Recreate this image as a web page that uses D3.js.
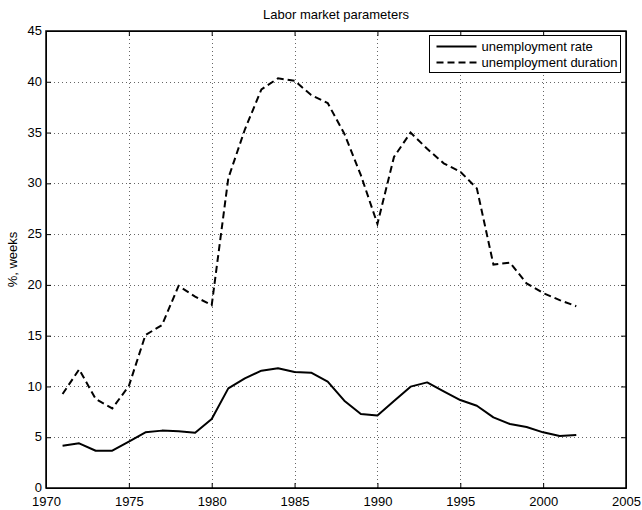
<!DOCTYPE html>
<html>
<head>
<meta charset="utf-8">
<script src="https://cdn.jsdelivr.net/npm/d3@7"></script>
<style>
  body { margin: 0; background: #fff; }
  svg { display: block; font-family: "Liberation Sans", Arial, sans-serif; }
  .tick text { font-size: 13px; fill: #000; }
</style>
</head>
<body>
<svg width="642" height="510"></svg>
<script>
const years = d3.range(1971, 2003);
const rate = [4.17, 4.4, 3.67, 3.67, 4.56, 5.48, 5.65, 5.58, 5.45, 6.79,
  9.81, 10.8, 11.55, 11.8, 11.42, 11.36, 10.47, 8.6, 7.29, 7.15,
  8.56, 9.98, 10.4, 9.52, 8.66, 8.1, 6.96, 6.3, 6.0, 5.48, 5.12, 5.22];
const duration = [9.25, 11.68, 8.76, 7.84, 10.04, 15.06, 16.05, 19.9, 18.84, 18.0,
  30.5, 35.3, 39.26, 40.34, 40.1, 38.7, 37.9, 34.9, 30.8, 26.0,
  32.6, 35.0, 33.4, 31.97, 31.15, 29.5, 22.0, 22.2, 20.15, 19.2, 18.5, 17.9];
const x_ticks = [1970, 1975, 1980, 1985, 1990, 1995, 2000, 2005];
const y_ticks = [0, 5, 10, 15, 20, 25, 30, 35, 40, 45];
const series_names = ["unemployment rate", "unemployment duration"];

const margin = { left: 46, right: 16, top: 31, bottom: 22 },
  width = 642,
  height = 510;

const svg = d3.select("svg");

const x_scale = d3.scaleLinear().domain([1970, 2005]).range([margin.left, width - margin.right]);
const y_scale = d3.scaleLinear().domain([0, 45]).range([height - margin.bottom, margin.top]);

// dotted grid
const grid = svg.append("g")
  .attr("stroke", "#666")
  .attr("stroke-width", 1)
  .attr("stroke-dasharray", "1,3")
  .attr("shape-rendering", "crispEdges");

grid.selectAll(".vg")
  .data(x_ticks.slice(1, -1))
  .enter()
  .append("line")
  .attr("x1", (d) => Math.round(x_scale(d)) + 0.5)
  .attr("x2", (d) => Math.round(x_scale(d)) + 0.5)
  .attr("y1", y_scale(45))
  .attr("y2", y_scale(0));

grid.selectAll(".hg")
  .data(y_ticks.slice(1, -1))
  .enter()
  .append("line")
  .attr("y1", (d) => Math.round(y_scale(d)) + 0.5)
  .attr("y2", (d) => Math.round(y_scale(d)) + 0.5)
  .attr("x1", x_scale(1970))
  .attr("x2", x_scale(2005));

// axes, ticks pointing inward
const x_axis = d3.axisBottom(x_scale).tickValues(x_ticks).tickFormat(d3.format("d"))
  .tickSizeInner(-5).tickSizeOuter(0).tickPadding(9);
const y_axis = d3.axisLeft(y_scale).tickValues(y_ticks)
  .tickSizeInner(-5).tickSizeOuter(0).tickPadding(4);

svg.append("g")
  .attr("transform", `translate(0,${height - margin.bottom})`)
  .call(x_axis);
svg.append("g")
  .attr("transform", `translate(${margin.left},0)`)
  .call(y_axis)
  .selectAll("text")
  .attr("dy", "0.28em");
svg.append("g")
  .attr("transform", `translate(0,${margin.top})`)
  .call(d3.axisTop(x_scale).tickValues(x_ticks).tickFormat("").tickSizeInner(-5).tickSizeOuter(0));
svg.append("g")
  .attr("transform", `translate(${width - margin.right},0)`)
  .call(d3.axisRight(y_scale).tickValues(y_ticks).tickFormat("").tickSizeInner(-5).tickSizeOuter(0));

svg.selectAll(".domain").attr("stroke", "#000");
svg.selectAll(".tick line").attr("stroke", "#000");

// frame
svg.append("rect")
  .attr("x", x_scale(1970))
  .attr("y", y_scale(45))
  .attr("width", x_scale(2005) - x_scale(1970))
  .attr("height", y_scale(0) - y_scale(45))
  .attr("fill", "none")
  .attr("stroke", "#000")
  .attr("stroke-width", 1.5);

// lines
const line_generator = d3.line()
  .x((d, i) => x_scale(years[i]))
  .y((d) => y_scale(d));

svg.append("path")
  .attr("fill", "none")
  .attr("stroke", "#000")
  .attr("stroke-width", 2)
  .attr("stroke-linejoin", "round")
  .attr("d", line_generator(rate));

svg.append("path")
  .attr("fill", "none")
  .attr("stroke", "#000")
  .attr("stroke-width", 2)
  .attr("stroke-dasharray", "7,4")
  .attr("d", line_generator(duration));

// title
svg.append("text")
  .attr("x", (x_scale(1970) + x_scale(2005)) / 2)
  .attr("y", 19)
  .attr("text-anchor", "middle")
  .style("font-size", "13px")
  .text("Labor market parameters");

// y label
svg.append("text")
  .attr("transform", `translate(17, ${(y_scale(0) + y_scale(45)) / 2}) rotate(-90)`)
  .attr("text-anchor", "middle")
  .style("font-size", "13px")
  .text("%, weeks");

// legend
const legend = svg.append("g").attr("transform", "translate(429.5,35.5)");
legend.append("rect")
  .attr("width", 191)
  .attr("height", 37)
  .attr("fill", "#fff")
  .attr("stroke", "#000");

series_names.forEach((name, i) => {
  const cy = 11 + i * 16;
  legend.append("line")
    .attr("x1", 7).attr("x2", 47)
    .attr("y1", cy).attr("y2", cy)
    .attr("stroke", "#000")
    .attr("stroke-width", 2)
    .attr("stroke-dasharray", i === 1 ? "7,4" : null);
  legend.append("text")
    .attr("x", 52)
    .attr("y", cy + 4.5)
    .style("font-size", "13px")
    .text(name);
});
</script>
</body>
</html>
